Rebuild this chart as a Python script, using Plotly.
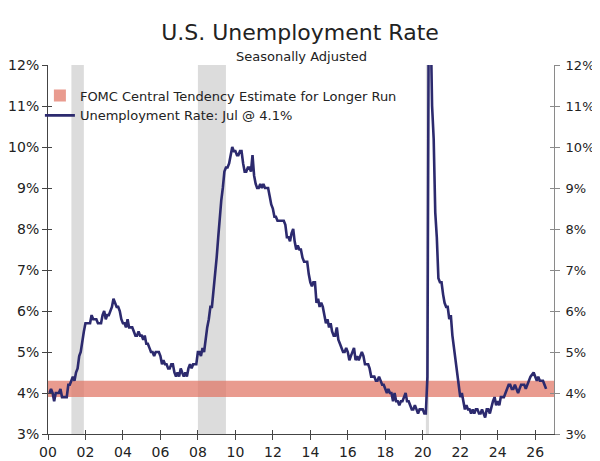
import pandas as pd
import plotly.graph_objects as go

# monthly unemployment rate, Jan 2000 - Jul 2026 (Oct 2025 not published)
unrate = [
    4.0, 4.1, 4.0, 3.8, 4.0, 4.0, 4.0, 4.1, 3.9, 3.9, 3.9, 3.9,  # 2000
    4.2, 4.2, 4.3, 4.4, 4.3, 4.5, 4.6, 4.9, 5.0, 5.3, 5.5, 5.7,  # 2001
    5.7, 5.7, 5.7, 5.9, 5.8, 5.8, 5.8, 5.7, 5.7, 5.7, 5.9, 6.0,  # 2002
    5.8, 5.9, 5.9, 6.0, 6.1, 6.3, 6.2, 6.1, 6.1, 6.0, 5.8, 5.7,  # 2003
    5.7, 5.6, 5.8, 5.6, 5.6, 5.6, 5.5, 5.4, 5.4, 5.5, 5.4, 5.4,  # 2004
    5.3, 5.4, 5.2, 5.2, 5.1, 5.0, 5.0, 4.9, 5.0, 5.0, 5.0, 4.9,  # 2005
    4.7, 4.8, 4.7, 4.7, 4.6, 4.6, 4.7, 4.7, 4.5, 4.4, 4.5, 4.4,  # 2006
    4.6, 4.5, 4.4, 4.5, 4.4, 4.6, 4.7, 4.6, 4.7, 4.7, 4.7, 5.0,  # 2007
    5.0, 4.9, 5.1, 5.0, 5.4, 5.6, 5.8, 6.1, 6.1, 6.5, 6.8, 7.3,  # 2008
    7.8, 8.3, 8.7, 9.0, 9.4, 9.5, 9.5, 9.6, 9.8, 10.0, 9.9, 9.9,  # 2009
    9.8, 9.8, 9.9, 9.9, 9.6, 9.4, 9.4, 9.5, 9.5, 9.4, 9.8, 9.3,  # 2010
    9.1, 9.0, 9.0, 9.1, 9.0, 9.1, 9.0, 9.0, 9.0, 8.8, 8.6, 8.5,  # 2011
    8.3, 8.3, 8.2, 8.2, 8.2, 8.2, 8.2, 8.1, 7.8, 7.8, 7.7, 7.9,  # 2012
    8.0, 7.7, 7.5, 7.6, 7.5, 7.5, 7.3, 7.2, 7.2, 7.2, 6.9, 6.7,  # 2013
    6.6, 6.7, 6.7, 6.2, 6.3, 6.1, 6.2, 6.1, 5.9, 5.7, 5.8, 5.6,  # 2014
    5.7, 5.5, 5.4, 5.4, 5.6, 5.3, 5.2, 5.1, 5.0, 5.0, 5.1, 5.0,  # 2015
    4.8, 4.9, 5.0, 5.1, 4.8, 4.9, 4.8, 4.9, 5.0, 4.9, 4.7, 4.7,  # 2016
    4.7, 4.6, 4.4, 4.4, 4.4, 4.3, 4.3, 4.4, 4.3, 4.2, 4.2, 4.1,  # 2017
    4.0, 4.1, 4.0, 4.0, 3.8, 4.0, 3.8, 3.8, 3.7, 3.8, 3.8, 3.9,  # 2018
    4.0, 3.8, 3.8, 3.7, 3.6, 3.6, 3.7, 3.6, 3.5, 3.6, 3.6, 3.6,  # 2019
    3.5, 3.5, 4.4, 14.8, 13.2, 11.0, 10.2, 8.4, 7.8, 6.8, 6.7, 6.7,  # 2020
    6.4, 6.2, 6.1, 6.1, 5.8, 5.9, 5.4, 5.1, 4.7, 4.5, 4.2, 3.9,  # 2021
    4.0, 3.8, 3.6, 3.7, 3.6, 3.6, 3.5, 3.6, 3.5, 3.6, 3.6, 3.5,  # 2022
    3.5, 3.6, 3.5, 3.4, 3.6, 3.6, 3.5, 3.7, 3.8, 3.9, 3.7, 3.8,  # 2023
    3.7, 3.9, 3.9, 3.9, 4.0, 4.1, 4.2, 4.2, 4.1, 4.1, 4.2, 4.1,  # 2024
    4.0, 4.1, 4.2, 4.2, 4.2, 4.1, 4.2, 4.3, 4.4, None, 4.5, 4.4,  # 2025
    4.3, 4.4, 4.3, 4.3, 4.3, 4.2, 4.1,  # 2026
]
dates = pd.date_range("2000-01-31", periods=len(unrate), freq="ME")

recession_start = ["2001-04-01", "2008-01-01", "2020-03-01"]
recession_end = ["2001-11-30", "2009-06-30", "2020-04-30"]

fomc_low = 3.9
fomc_high = 4.3

line_name = "Unemployment Rate: Jul @ 4.1%"
band_name = "FOMC Central Tendency Estimate for Longer Run"

navy = "#2c2a6e"
font = "DejaVu Sans"

# page body has an 8px margin, so the figure is drawn 8px smaller
W, H = 592, 453

fig = go.Figure()

fig.add_trace(go.Scatter(
    x=dates, y=unrate, mode="lines", name=line_name,
    line=dict(color=navy, width=2.6), connectgaps=True, legendrank=2,
))

# empty traces so the extra (tick-only) axes get drawn
for xa, ya in [("x", "y2"), ("x", "y3"), ("x", "y4"), ("x2", "y")]:
    fig.add_trace(go.Scatter(x=[], y=[], xaxis=xa, yaxis=ya, showlegend=False,
                             hoverinfo="skip"))

# recessions
for s, e in zip(recession_start, recession_end):
    fig.add_shape(type="rect", xref="x", yref="paper", x0=s, x1=e, y0=0, y1=1,
                  fillcolor="#dcdcdc", line_width=0, layer="below")

# FOMC band
fig.add_shape(type="rect", xref="paper", yref="y", x0=0, x1=1, y0=fomc_low, y1=fomc_high,
              fillcolor="rgba(224,112,96,0.7)", line_width=0, layer="below",
              showlegend=True, name=band_name, legendrank=1)

xr = ["2000-01-01", "2027-01-01"]
yr = [3, 12]
xcommon = dict(type="date", range=xr, tick0="2000-01-01", dtick="M24", showgrid=False,
               zeroline=False)
ycommon = dict(range=yr, dtick=1, showgrid=False, zeroline=False)

fig.update_layout(
    width=W, height=H,
    margin=dict(l=40, r=46, t=57, b=27, autoexpand=False),
    paper_bgcolor="white", plot_bgcolor="white",
    font=dict(family=font, color="#222222", size=14),
    title=dict(text="U.S. Unemployment Rate", x=292 / W, xanchor="center",
               y=1 - 24 / H, yanchor="middle", font=dict(size=22)),
    annotations=[dict(text="Seasonally Adjusted", xref="paper", yref="paper",
                      x=0.5, y=1 + 8.5 / 369, xanchor="center", yanchor="middle",
                      showarrow=False, font=dict(size=13))],
    showlegend=True,
    legend=dict(x=-0.016, y=0.958, xanchor="left", yanchor="top",
                bgcolor="rgba(0,0,0,0)", font=dict(size=13),
                itemwidth=30, tracegroupgap=0),
    xaxis=dict(**xcommon, tickformat="%y", ticks="outside", ticklen=5,
               showline=True, linecolor="#444444", tickcolor="#444444",
               tickfont=dict(size=14)),
    xaxis2=dict(**xcommon, overlaying="x", anchor="y", ticks="inside", ticklen=4,
                showticklabels=False, showline=False, tickcolor="#444444"),
    yaxis=dict(**ycommon, ticksuffix="%", ticks="outside", ticklen=5,
               showline=True, linecolor="#444444", tickcolor="#444444",
               tickfont=dict(size=14)),
    yaxis2=dict(**ycommon, overlaying="y", side="right", anchor="x",
                ticksuffix="%", ticks="outside", ticklen=5, ticklabelstandoff=3,
                showline=True, linecolor="#8a8a8a", tickcolor="#8a8a8a",
                tickfont=dict(size=13)),
    yaxis3=dict(**ycommon, overlaying="y", side="left", anchor="x",
                ticks="inside", ticklen=4, showticklabels=False, tickcolor="#444444"),
    yaxis4=dict(**ycommon, overlaying="y", side="right", anchor="x",
                ticks="inside", ticklen=4, showticklabels=False, tickcolor="#8a8a8a"),
)

fig.write_html("out.html")
